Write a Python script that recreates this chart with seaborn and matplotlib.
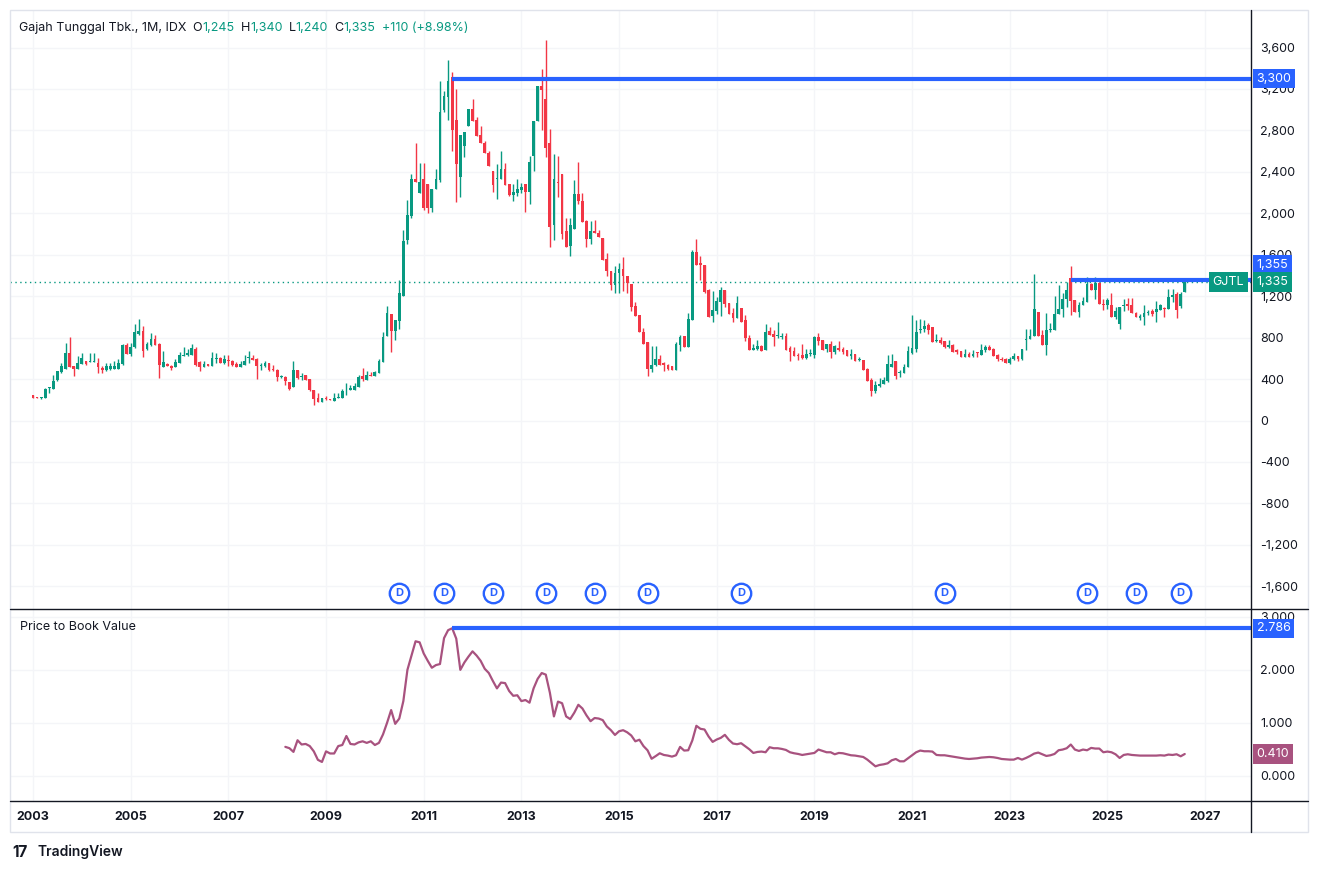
import numpy as np
import matplotlib
matplotlib.use("Agg")
import matplotlib.pyplot as plt
import matplotlib.transforms as mtrans
from matplotlib.lines import Line2D
from matplotlib.patches import Rectangle
from matplotlib.offsetbox import TextArea, HPacker, AnchoredOffsetbox
import seaborn as sns

# Monthly candles, GJTL (IDX), Jan 2003 -> Aug 2026
first_month = "2003-01"
opens = [
    242, 222, 216, 217, 318, 302, 388, 467, 502, 651,
    527, 502, 550, 575, 569, 569, 556, 508, 489, 499,
    499, 499, 550, 727, 645, 705, 835, 860, 692, 730,
    784, 740, 521, 546, 531, 512, 556, 626, 629, 635,
    686, 565, 521, 546, 531, 597, 605, 551, 585, 577,
    548, 513, 532, 600, 606, 596, 522, 522, 555, 500,
    490, 420, 416, 371, 326, 490, 420, 435, 397, 297,
    220, 175, 215, 205, 184, 220, 220, 290, 290, 297,
    320, 432, 394, 435, 426, 458, 564, 812, 1025, 860,
    957, 1199, 1745, 1970, 2330, 2192, 2330, 2282, 2050, 2234,
    2324, 3000, 3124, 3317, 2900, 2353, 2652, 2845, 3005, 2903,
    2755, 2677, 2578, 2410, 2330, 2330, 2430, 2282, 2179, 2195,
    2224, 2282, 2202, 2549, 2893, 3224, 3102, 2674, 1888, 2300,
    2376, 1825, 1682, 1852, 2190, 2123, 1923, 1752, 1833, 1810,
    1762, 1562, 1446, 1305, 1424, 1466, 1398, 1320, 1102, 1021,
    854, 754, 500, 538, 596, 554, 538, 522, 484, 731,
    812, 706, 973, 1624, 1520, 1505, 1258, 1008, 1053, 1142,
    1264, 1133, 1037, 989, 1088, 966, 797, 678, 686, 717,
    678, 861, 832, 813, 810, 813, 698, 669, 630, 634,
    608, 640, 630, 806, 774, 688, 736, 666, 704, 694,
    678, 624, 640, 582, 582, 499, 390, 288, 333, 352,
    384, 512, 573, 456, 454, 518, 650, 691, 870, 886,
    918, 898, 764, 774, 765, 710, 726, 678, 669, 614,
    640, 621, 653, 630, 685, 710, 688, 630, 598, 592,
    557, 592, 624, 592, 775, 790, 816, 1048, 823, 732,
    877, 871, 1032, 1081, 1171, 1371, 1161, 1048, 1113, 1145,
    1316, 1261, 1329, 1129, 1113, 1113, 997, 929, 1106, 1123,
    1113, 1042, 990, 1000, 1036, 1058, 1048, 1071, 1081, 1074,
    1194, 1219, 1103, 1245,
]
highs = [
    242, 226, 226, 315, 328, 442, 480, 559, 749, 803,
    527, 622, 654, 575, 654, 654, 600, 527, 559, 559,
    575, 597, 735, 749, 749, 936, 984, 911, 756, 841,
    825, 745, 670, 556, 535, 597, 660, 708, 689, 740,
    708, 575, 578, 550, 657, 654, 610, 632, 632, 585,
    560, 577, 635, 667, 635, 600, 555, 577, 558, 538,
    500, 442, 426, 371, 577, 490, 458, 442, 403, 297,
    261, 213, 239, 210, 261, 261, 303, 361, 345, 361,
    435, 506, 480, 464, 480, 596, 857, 1102, 1031, 973,
    1360, 1843, 2130, 2378, 2677, 2485, 2485, 2282, 2234, 2427,
    3278, 3182, 3478, 3359, 3198, 2755, 2780, 3005, 3102, 2925,
    2845, 2700, 2598, 2410, 2475, 2600, 2490, 2282, 2282, 2330,
    2292, 2282, 2555, 2893, 3230, 3397, 3670, 2813, 2577, 2553,
    2376, 1950, 1955, 2325, 2496, 2197, 1940, 1923, 1940, 1843,
    1762, 1617, 1446, 1495, 1520, 1575, 1398, 1320, 1144, 1021,
    893, 754, 722, 715, 635, 560, 545, 522, 757, 828,
    812, 1038, 1650, 1752, 1591, 1505, 1272, 1254, 1190, 1293,
    1264, 1133, 1088, 1206, 1088, 1014, 822, 736, 774, 726,
    928, 902, 870, 954, 845, 845, 720, 710, 653, 742,
    694, 694, 813, 845, 774, 736, 765, 726, 765, 710,
    685, 688, 640, 614, 582, 509, 410, 381, 406, 422,
    630, 646, 573, 486, 541, 717, 1018, 970, 976, 973,
    941, 898, 838, 806, 765, 774, 736, 694, 669, 688,
    662, 678, 666, 742, 726, 726, 701, 640, 611, 605,
    614, 653, 624, 694, 880, 880, 1413, 1048, 871, 1042,
    941, 1200, 1306, 1226, 1339, 1490, 1161, 1145, 1194, 1387,
    1323, 1381, 1339, 1177, 1187, 1226, 1097, 1097, 1177, 1184,
    1184, 1048, 1032, 1113, 1064, 1081, 1152, 1129, 1097, 1274,
    1265, 1242, 1242, 1340,
]
lows = [
    217, 214, 212, 214, 267, 302, 385, 458, 502, 512,
    426, 502, 550, 534, 562, 562, 454, 458, 480, 490,
    499, 499, 540, 640, 622, 700, 830, 616, 683, 720,
    725, 407, 512, 525, 483, 512, 556, 622, 622, 629,
    530, 480, 518, 528, 531, 559, 555, 548, 530, 525,
    513, 513, 532, 555, 587, 403, 490, 516, 480, 480,
    384, 410, 339, 297, 326, 400, 387, 387, 287, 146,
    175, 175, 194, 195, 184, 213, 220, 249, 290, 297,
    320, 384, 394, 426, 426, 458, 564, 812, 658, 780,
    886, 1199, 1700, 1955, 2298, 2192, 2030, 2002, 2008, 2234,
    2305, 2973, 2900, 2603, 2111, 2160, 2540, 2845, 2893, 2748,
    2674, 2578, 2452, 2208, 2140, 2330, 2275, 2170, 2115, 2170,
    2195, 2008, 2085, 2410, 2893, 2806, 2540, 1672, 1740, 2160,
    1750, 1676, 1585, 1852, 2094, 1917, 1672, 1707, 1810, 1772,
    1546, 1398, 1263, 1230, 1230, 1247, 1230, 1060, 1005, 850,
    741, 425, 468, 522, 532, 474, 490, 484, 484, 667,
    706, 706, 973, 1505, 1360, 1230, 1002, 950, 1030, 1008,
    1094, 1024, 950, 989, 950, 765, 678, 678, 678, 672,
    678, 822, 720, 800, 790, 678, 570, 621, 580, 592,
    592, 621, 608, 726, 685, 662, 602, 646, 672, 640,
    624, 598, 576, 573, 486, 384, 237, 269, 320, 352,
    374, 512, 400, 422, 454, 518, 640, 666, 845, 854,
    838, 754, 754, 742, 704, 704, 662, 646, 614, 614,
    614, 614, 614, 630, 662, 678, 624, 576, 576, 557,
    550, 582, 576, 582, 677, 790, 816, 816, 732, 635,
    851, 871, 1032, 1000, 1097, 1016, 1048, 1000, 1113, 1145,
    1258, 1177, 1123, 1064, 1074, 997, 977, 881, 1055, 1064,
    1042, 997, 968, 926, 1023, 1006, 952, 1071, 1000, 1074,
    1145, 990, 1087, 1240,
]
closes = [
    217, 218, 222, 309, 324, 385, 474, 527, 648, 521,
    493, 556, 603, 546, 575, 575, 521, 483, 527, 527,
    527, 556, 727, 645, 711, 851, 860, 673, 740, 784,
    730, 540, 565, 531, 508, 565, 629, 632, 654, 702,
    537, 521, 546, 531, 603, 603, 558, 590, 570, 538,
    513, 548, 577, 606, 587, 522, 538, 555, 487, 487,
    416, 426, 377, 303, 490, 410, 426, 387, 297, 207,
    175, 213, 207, 200, 220, 226, 287, 297, 316, 329,
    419, 400, 442, 432, 464, 577, 806, 1038, 860, 973,
    1231, 1730, 1983, 2330, 2298, 2298, 2050, 2050, 2234, 2330,
    2976, 3131, 3278, 2803, 2475, 2755, 2780, 3005, 2893, 2748,
    2674, 2578, 2452, 2275, 2335, 2430, 2275, 2179, 2208, 2234,
    2253, 2202, 2497, 2893, 3224, 3192, 2630, 1870, 2328, 2293,
    1803, 1676, 1888, 2190, 2116, 1917, 1752, 1833, 1810, 1772,
    1546, 1440, 1305, 1424, 1466, 1392, 1327, 1092, 1005, 850,
    741, 500, 532, 596, 538, 538, 500, 484, 741, 802,
    706, 983, 1624, 1505, 1498, 1240, 1002, 1062, 1149, 1264,
    1126, 1024, 989, 1133, 950, 797, 678, 698, 720, 672,
    854, 829, 806, 822, 813, 678, 662, 621, 624, 608,
    646, 653, 806, 768, 685, 736, 662, 717, 678, 666,
    624, 640, 576, 586, 486, 384, 288, 342, 352, 390,
    544, 550, 432, 461, 518, 669, 698, 858, 883, 909,
    877, 754, 774, 752, 710, 726, 662, 662, 614, 640,
    614, 646, 650, 685, 710, 685, 624, 592, 582, 557,
    598, 624, 592, 694, 781, 816, 1074, 816, 732, 877,
    883, 1032, 1081, 1171, 1258, 1155, 1048, 1113, 1152, 1316,
    1258, 1329, 1123, 1113, 1161, 997, 1055, 1097, 1119, 1106,
    1042, 997, 1010, 1039, 1042, 1032, 1074, 1113, 1074, 1194,
    1210, 1064, 1225, 1335,
]

# Price to Book Value, monthly from Mar 2008
pbv_start = "2008-03"
pbv = [
    0.545, 0.52, 0.45, 0.67, 0.59, 0.60, 0.56, 0.46, 0.30, 0.26,
    0.46, 0.42, 0.42, 0.56, 0.58, 0.75, 0.60, 0.59, 0.63, 0.65,
    0.62, 0.65, 0.58, 0.62, 0.78, 1.00, 1.24, 0.98, 1.08, 1.41,
    2.00, 2.27, 2.54, 2.52, 2.31, 2.17, 2.04, 2.09, 2.11, 2.60,
    2.75, 2.786, 2.59, 2.00, 2.14, 2.25, 2.35, 2.27, 2.17, 2.02,
    1.94, 1.79, 1.65, 1.76, 1.75, 1.60, 1.51, 1.52, 1.41, 1.43,
    1.38, 1.65, 1.83, 1.94, 1.91, 1.57, 1.12, 1.40, 1.37, 1.12,
    1.07, 1.19, 1.34, 1.27, 1.14, 1.03, 1.09, 1.08, 1.05, 0.93,
    0.86, 0.77, 0.84, 0.86, 0.82, 0.76, 0.65, 0.68, 0.56, 0.48,
    0.32, 0.37,
    0.424, 0.392, 0.380, 0.361, 0.386, 0.544, 0.475, 0.481, 0.665, 0.943,
    0.886, 0.873, 0.741, 0.639, 0.684, 0.715, 0.772, 0.677, 0.608, 0.595,
    0.614, 0.557, 0.500, 0.430, 0.449, 0.456, 0.443, 0.538, 0.519, 0.519,
    0.506, 0.487, 0.443, 0.424, 0.411, 0.392, 0.405, 0.418, 0.430, 0.494,
    0.468, 0.443, 0.443, 0.405, 0.430, 0.424, 0.405, 0.386, 0.380, 0.367,
    0.354, 0.304, 0.241, 0.177, 0.203, 0.215, 0.234, 0.291, 0.316, 0.272,
    0.272, 0.329, 0.386, 0.443, 0.475, 0.462, 0.462, 0.456, 0.392, 0.386,
    0.386, 0.373, 0.361, 0.348, 0.335, 0.323, 0.316, 0.323, 0.329, 0.342,
    0.348, 0.354, 0.348, 0.335, 0.316, 0.310, 0.304, 0.304, 0.335, 0.304,
    0.335, 0.373, 0.418, 0.437, 0.405, 0.373, 0.386, 0.411, 0.481, 0.494,
    0.519, 0.589, 0.494, 0.468, 0.494, 0.481, 0.525, 0.513, 0.513, 0.443,
    0.456, 0.443, 0.405, 0.335, 0.392, 0.405, 0.392, 0.386, 0.380, 0.380,
    0.380, 0.380, 0.380, 0.386, 0.380, 0.399, 0.392, 0.405, 0.367, 0.410,
]

# dividend markers and drawn horizontal rays
dividend_months = ["2010-07", "2011-06", "2012-06", "2013-07", "2014-07", "2015-08",
                   "2017-07", "2021-09", "2024-08", "2025-08", "2026-07"]
price_rays = [("2011-08", 3300), ("2024-04", 1355)]
pbv_ray = ("2011-08", 2.786)
price_ticks = list(range(-1600, 3601, 400))
pbv_ticks = [0, 1, 2, 3]
year_ticks = list(range(2003, 2028, 2))

GREEN = "#089981"
RED = "#f23645"
BLUE = "#2962ff"
PBV_COL = "#a8527f"
TXT = "#131722"
GRID = "#f4f5f8"


def month_x(s):
    y, m = s.split("-")
    return int(y) + (int(m) - 1) / 12


W, H = 1319, 871


def fx(px):
    return px / W


def fy(py):
    return 1 - py / H


sns.set_style("white")
plt.rcParams["font.family"] = ["Inter", "DejaVu Sans"]

fig = plt.figure(figsize=(W / 100, H / 100), dpi=100)
ax = fig.add_axes([fx(10), fy(609), fx(1251) - fx(10), fy(10) - fy(609)])
ax2 = fig.add_axes([fx(10), fy(801), fx(1251) - fx(10), fy(609) - fy(801)])

xmin, xmax = 2002.529, 2027.94
x0 = month_x(first_month)
xs = x0 + np.arange(len(closes)) / 12
o = np.array(opens, float)
h = np.array(highs, float)
l = np.array(lows, float)
c = np.array(closes, float)
cols = np.where(c >= o, GREEN, RED)

# candles
ax.vlines(xs, l, h, colors=cols, lw=1, zorder=3)
body = np.maximum(np.abs(c - o), 9)
ax.bar(xs, body, bottom=np.minimum(o, c), width=0.056, color=cols, lw=0, zorder=4)

ax.set_xlim(xmin, xmax)
ax.set_ylim(-1819, 3962)
ax.set_yticks(price_ticks)
ax.set_yticklabels([f"{v:,}" for v in price_ticks])
ax.yaxis.tick_right()
ax.tick_params(axis="y", length=0, pad=6.5, labelsize=9, labelcolor=TXT)
ax.set_xticks(year_ticks)
ax.tick_params(axis="x", length=0, labelbottom=False)
ax.grid(True, color=GRID, lw=1)
ax.set_axisbelow(True)
for s in ax.spines.values():
    s.set_visible(False)

# current price line and rays
ax.axhline(closes[-1], color=GREEN, lw=1, ls=(0, (1, 2.5)), zorder=2)
for start, val in price_rays:
    ax.hlines(val, month_x(start), xmax, color=BLUE, lw=3, zorder=6)

ytrans = mtrans.blended_transform_factory(ax.transAxes, ax.transData)
# the 1,355 tag is pushed up so it does not sit on the last price tag
label_shift = {3300: 0, 1355: 11}
for start, val in price_rays:
    ax.annotate(f"{val:,}", xy=(1, val), xycoords=ytrans, xytext=(4, label_shift[val]),
                textcoords="offset points", ha="left", va="center", color="white", fontsize=9,
                annotation_clip=False, zorder=10,
                bbox=dict(boxstyle="square,pad=0.3", fc=BLUE, ec="none"))
ax.annotate(f"{closes[-1]:,}", xy=(1, closes[-1]), xycoords=ytrans, xytext=(4, 0),
            textcoords="offset points", ha="left", va="center", color="white", fontsize=9,
            annotation_clip=False, zorder=11,
            bbox=dict(boxstyle="square,pad=0.3", fc=GREEN, ec="none"))
ax.annotate("GJTL", xy=(1, closes[-1]), xycoords=ytrans, xytext=(-5, 0),
            textcoords="offset points", ha="right", va="center", color="white", fontsize=9,
            annotation_clip=False, zorder=11,
            bbox=dict(boxstyle="square,pad=0.3", fc=GREEN, ec="none"))

# dividend markers
dtrans = mtrans.blended_transform_factory(ax.transData, ax.transAxes)
dx = [month_x(d) for d in dividend_months]
ax.plot(dx, [0.027] * len(dx), "o", ms=14, mfc="white", mec=BLUE, mew=1.7,
        transform=dtrans, clip_on=False, zorder=8)
for x in dx:
    ax.text(x, 0.027, "D", transform=dtrans, ha="center", va="center", color=BLUE,
            fontsize=8, fontweight="bold", zorder=9)

# header
parts = [("O", f"{opens[-1]:,}"), ("H", f"{highs[-1]:,}"), ("L", f"{lows[-1]:,}"), ("C", f"{closes[-1]:,}")]
chg = closes[-1] - closes[-2]
tp = dict(fontsize=9)
groups = [TextArea("Gajah Tunggal Tbk., 1M, IDX", textprops=dict(color=TXT, **tp))]
for k, v in parts:
    groups.append(HPacker(children=[TextArea(k, textprops=dict(color=TXT, **tp)),
                                    TextArea(v, textprops=dict(color=GREEN, **tp))],
                          align="baseline", pad=0, sep=0))
groups.append(TextArea(f"+{chg} (+{chg / closes[-2] * 100:.2f}%)", textprops=dict(color=GREEN, **tp)))
header = HPacker(children=groups, align="baseline", pad=0, sep=4.5)
fig.add_artist(AnchoredOffsetbox(loc="center left", child=header, pad=0, borderpad=0, frameon=False,
                                 bbox_to_anchor=(fx(19), fy(28)), bbox_transform=fig.transFigure))

# PBV pane
pbv_x = month_x(pbv_start) + np.arange(len(pbv)) / 12
sns.lineplot(x=pbv_x, y=pbv, ax=ax2, color=PBV_COL, lw=1.6, zorder=3)
ax2.hlines(pbv_ray[1], month_x(pbv_ray[0]), xmax, color=BLUE, lw=3, zorder=6)
ax2.set_xlim(xmin, xmax)
ax2.set_ylim(-0.478, 3.15)
ax2.set_yticks(pbv_ticks)
ax2.set_yticklabels([f"{v:.3f}" for v in pbv_ticks])
ax2.yaxis.tick_right()
ax2.tick_params(axis="y", length=0, pad=6.5, labelsize=9, labelcolor=TXT)
ax2.set_xticks(year_ticks)
ax2.set_xticklabels([str(y) for y in year_ticks], fontweight="bold")
ax2.tick_params(axis="x", length=0, pad=7, labelsize=9, labelcolor=TXT)
ax2.grid(True, color=GRID, lw=1)
ax2.set_axisbelow(True)
for s in ax2.spines.values():
    s.set_visible(False)
ytrans2 = mtrans.blended_transform_factory(ax2.transAxes, ax2.transData)
ax2.annotate(f"{pbv_ray[1]:.3f}", xy=(1, pbv_ray[1]), xycoords=ytrans2, xytext=(4, 0),
             textcoords="offset points", ha="left", va="center", color="white", fontsize=9,
             annotation_clip=False, zorder=10,
             bbox=dict(boxstyle="square,pad=0.3", fc=BLUE, ec="none"))
ax2.annotate(f"{pbv[-1]:.3f}", xy=(1, pbv[-1]), xycoords=ytrans2, xytext=(4, 0),
             textcoords="offset points", ha="left", va="center", color="white", fontsize=9,
             annotation_clip=False, zorder=10,
             bbox=dict(boxstyle="square,pad=0.3", fc=PBV_COL, ec="none"))
ax2.text(0.008, 0.906, "Price to Book Value", transform=ax2.transAxes, ha="left", va="center",
         color=TXT, fontsize=9)

# frame and separators
fig.add_artist(Rectangle((fx(10), fy(832)), fx(1308) - fx(10), fy(10) - fy(832),
                         transform=fig.transFigure, fill=False, ec="#e0e3eb", lw=1))
for y in (609, 801):
    fig.add_artist(Line2D([fx(10), fx(1308)], [fy(y), fy(y)], transform=fig.transFigure, color=TXT, lw=1))
fig.add_artist(Line2D([fx(1251), fx(1251)], [fy(10), fy(832)], transform=fig.transFigure, color=TXT, lw=1))

# TradingView mark
fig.text(fx(12), fy(852), "17", ha="left", va="center", fontsize=11, fontweight="bold", color=TXT)
fig.text(fx(37), fy(852), "TradingView", ha="left", va="center", fontsize=10, fontweight="semibold", color=TXT)

fig.savefig("out.png", dpi=100, facecolor="white")
